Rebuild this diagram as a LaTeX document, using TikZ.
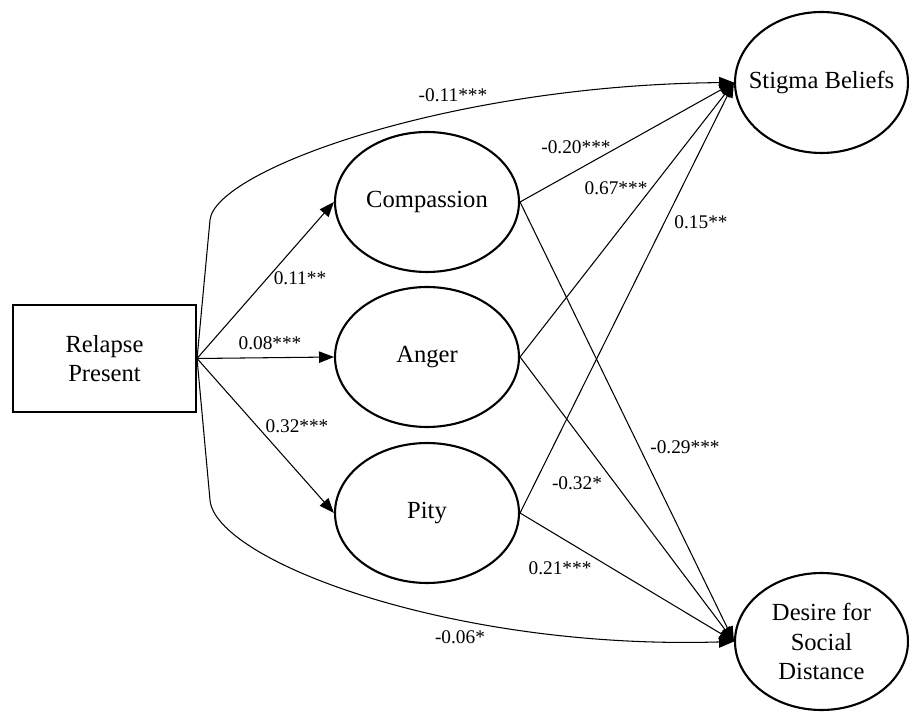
\documentclass[tikz,border=0pt]{standalone}
\usepackage{fontspec}
\setmainfont{Liberation Serif}
\usetikzlibrary{shapes.geometric,arrows.meta}

\tikzset{
  latent/.style={draw, ellipse, line width=1.2pt, inner sep=0pt,
    minimum width=3.68cm, minimum height=2.8cm, align=center,
    font=\fontsize{14}{16.8}\selectfont},
  observed/.style={draw, rectangle, line width=1.2pt, inner sep=0pt,
    minimum width=3.66cm, minimum height=2.14cm, align=center,
    font=\fontsize{14}{16.8}\selectfont},
  effect/.style={-{Triangle[length=8.5pt,width=6.5pt]}, line width=0.6pt},
  coef/.style={inner sep=0pt, font=\fontsize{11}{13}\selectfont}
}

\begin{document}
\begin{tikzpicture}[x=0.02cm, y=-0.02cm]
\useasboundingbox (0,0) rectangle (909,712);
% Variaveis
\node[observed] (relapse) at (104.5,358.5) {Relapse\\Present};
\node[latent] (compassion) at (427,202) {Compassion};
\node[latent] (anger) at (427,357) {Anger};
\node[latent] (pity) at (427,513) {Pity};
\node[latent, inner xsep=-8pt, minimum width=3.46cm, minimum height=2.82cm] (stigma) at (821.5,82.5) {Stigma Beliefs};
\node[latent, minimum width=3.46cm, minimum height=2.74cm] (distance) at (821.5,641.5) {Desire for\\Social\\Distance};
% Caminhos
\draw[effect] (relapse.east) -- (compassion.west);
\draw[effect] (relapse.east) -- (anger.west);
\draw[effect] (relapse.east) -- (pity.west);
\draw[effect] (relapse.east) -- (210,220) .. controls (215,170) and (450,85) .. (stigma.west);
\draw[effect] (relapse.east) -- (210,500) .. controls (215,560) and (450,650) .. (distance.west);
\draw[effect] (compassion.east) -- (stigma.west);
\draw[effect] (anger.east) -- (stigma.west);
\draw[effect] (pity.east) -- (stigma.west);
\draw[effect] (compassion.east) -- (distance.west);
\draw[effect] (anger.east) -- (distance.west);
\draw[effect] (pity.east) -- (distance.west);
% Coeficientes
\node[coef] (b1) at (300,278) {0.11**};
\node[coef] (b2) at (270,343) {0.08***};
\node[coef] (b3) at (297,426) {0.32***};
\node[coef] (b4) at (453,95) {-0.11***};
\node[coef] (b5) at (460,637) {-0.06*};
\node[coef] (b6) at (576,147) {-0.20***};
\node[coef] (b7) at (616,188) {0.67***};
\node[coef] (b8) at (701,222) {0.15**};
\node[coef] (b9) at (685,447) {-0.29***};
\node[coef] (b10) at (577,483) {-0.32*};
\node[coef] (b11) at (560,568) {0.21***};
\end{tikzpicture}
\end{document}
